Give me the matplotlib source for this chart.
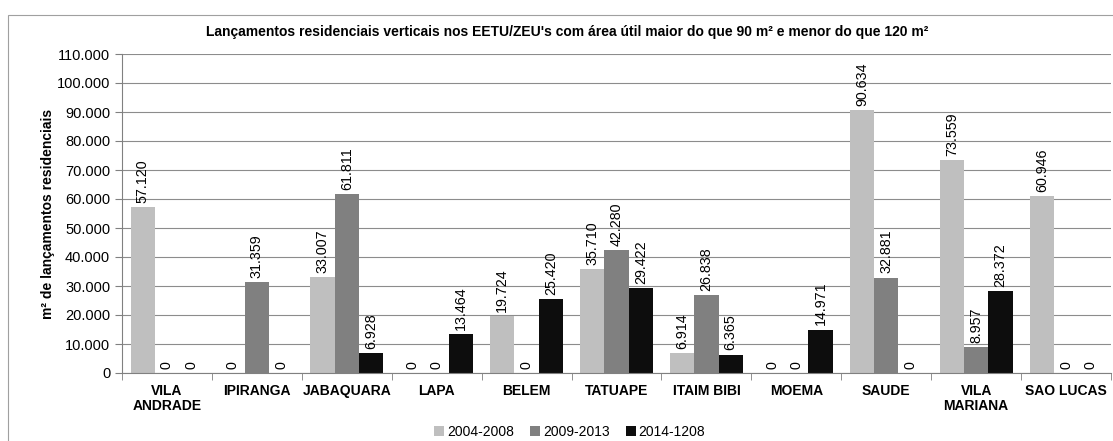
import matplotlib.pyplot as plt
import matplotlib.patches as mpatches
import numpy as np

plt.rcParams['font.family'] = ['Liberation Sans', 'DejaVu Sans']

categorias = ["VILA\nANDRADE", "IPIRANGA", "JABAQUARA", "LAPA", "BELEM", "TATUAPE",
              "ITAIM BIBI", "MOEMA", "SAUDE", "VILA\nMARIANA", "SAO LUCAS"]
s2004 = [57120, 0, 33007, 0, 19724, 35710, 6914, 0, 90634, 73559, 60946]
s2009 = [0, 31359, 61811, 0, 0, 42280, 26838, 0, 32881, 8957, 0]
s2014 = [0, 0, 6928, 13464, 25420, 29422, 6365, 14971, 0, 28372, 0]
series = ["2004-2008", "2009-2013", "2014-1208"]
cores = ["#bfbfbf", "#808080", "#0d0d0d"]


def fmt(v):
    return f"{v:,}".replace(",", ".")


fig = plt.figure(figsize=(11.13, 4.41), dpi=100)
# moldura externa (sai pela direita e por baixo, como no original)
fig.patches.append(mpatches.Rectangle((8 / 1113, -10 / 441), 1120 / 1113, 436 / 441,
                                      transform=fig.transFigure, fill=False,
                                      edgecolor="#a0a0a0", linewidth=0.8))
ax = fig.add_axes([122 / 1113, 68 / 441, 989 / 1113, 319 / 441])

x = np.arange(len(categorias))
w = 0.27
for i, (dados, cor) in enumerate(zip([s2004, s2009, s2014], cores)):
    pos = x + (i - 1) * w
    ax.bar(pos, dados, width=w, color=cor, label=series[i], zorder=2)
    for p, v in zip(pos, dados):
        ax.annotate(fmt(v), (p, v), xytext=(0, 3), textcoords="offset points",
                    rotation=90, ha="center", va="bottom", fontsize=10.3, zorder=3)

ax.set_xlim(-0.5, len(categorias) - 0.5)
ax.set_ylim(0, 110000)
ax.set_yticks(np.arange(0, 110001, 10000))
ax.set_yticklabels([fmt(v) for v in range(0, 110001, 10000)], fontsize=10.5)
ax.yaxis.grid(True, color="#8c8c8c", linewidth=0.8, zorder=0)
ax.set_axisbelow(True)

ax.set_xticks(x)
ax.set_xticklabels(categorias, fontsize=10, fontweight="bold", linespacing=1.05)
ax.tick_params(axis="x", length=0, pad=8)
ax.set_xticks(np.arange(-0.5, len(categorias)), minor=True)
ax.tick_params(axis="x", which="minor", length=5, color="#808080")
ax.tick_params(axis="y", length=5, color="#808080")

for s in ["top", "right"]:
    ax.spines[s].set_visible(False)
ax.spines["left"].set_color("#808080")
ax.spines["bottom"].set_color("#808080")

ax.set_ylabel("m² de lançamentos residenciais", fontsize=10, fontweight="bold", labelpad=1)
fig.text(0.510, 1 - 32 / 441,
         "Lançamentos residenciais verticais nos EETU/ZEU's com área útil maior do que 90 m² e menor do que 120 m²",
         ha="center", va="center", fontsize=10, fontweight="bold")

fig.legend(loc="center", bbox_to_anchor=(0.512, 1 - 432 / 441), ncol=3, frameon=False,
           fontsize=10, handlelength=0.7, handleheight=0.7, handletextpad=0.2,
           columnspacing=1.2, borderpad=0)

fig.savefig("out.png", dpi=100)
